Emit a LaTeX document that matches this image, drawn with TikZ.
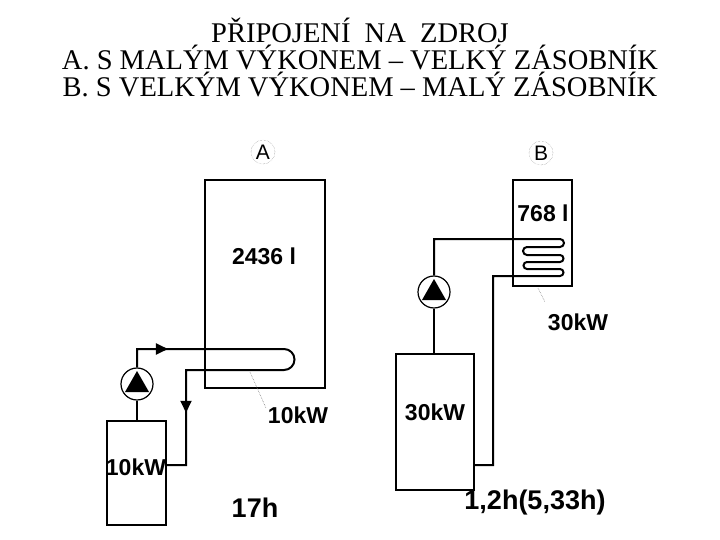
\documentclass[tikz,border=0pt]{standalone}
\usepackage{fontspec}
\setmainfont{Liberation Serif}
\newfontfamily\arial{Liberation Sans}
\usetikzlibrary{arrows.meta,decorations.markings}
\begin{document}
\begin{tikzpicture}[x=1pt,y=-1pt,
  box/.style={draw,line width=1.2pt},
  pipe/.style={line width=2pt},
  lbl/.style={font=\arial\bfseries\fontsize{23}{25}\selectfont,inner sep=0},
  big/.style={font=\arial\bfseries\fontsize{27}{29}\selectfont,inner sep=0},
  ttl/.style={font=\fontsize{28.5}{30}\selectfont,inner sep=0},
  lead/.style={densely dotted,line width=0.6pt,gray},
  midarrow/.style={postaction={decorate},decoration={markings,mark=at position #1 with {\arrow{Triangle[length=12pt,width=11pt]}}}}]
\useasboundingbox (0,0) rectangle (720,540);
% titles
\node[ttl] (t1) at (360,30) {PŘIPOJENÍ \ NA \ ZDROJ};
\node[ttl] (t2) at (360,57) {A. S MALÝM VÝKONEM – VELKÝ ZÁSOBNÍK};
\node[ttl] (t3) at (360,84) {B. S VELKÝM VÝKONEM – MALÝ ZÁSOBNÍK};
% A
\node[inner sep=0,font=\arial\fontsize{21}{23}\selectfont] (la) at (263,152) {A};
\draw[densely dotted,gray] (la) circle (12);
\draw[box] (205,180) rectangle (325,388);
\node[lbl] (vA) at (264,256) {2436 l};
\draw[box] (107,421) rectangle (166,525);
\node[lbl] (kA) at (136,467) {10kW};
\node[draw,circle,line width=1.2pt,minimum size=32pt,inner sep=0] (pA) at (137,384) {};
\fill (137,371) -- (125,392) -- (149,392) -- cycle;
\draw[pipe] (137,421) -- (pA.south);
\draw[pipe,midarrow=0.12] (pA.north) -- (137,349) -- (284,349) arc[start angle=-90,end angle=90,radius=10.5] -- (186,370) -- (186,465) -- (166,465);
\draw[pipe,midarrow=0.45] (186,370) -- (186,465);
\draw[lead] (250,372) -- (266,408);
\node[lbl] (kA2) at (298,415) {10kW};
% B
\node[inner sep=0,font=\arial\fontsize{21}{23}\selectfont] (lb) at (541,153) {B};
\draw[densely dotted,gray] (lb) circle (12);
\draw[box] (513,180) rectangle (572,286);
\node[lbl] (vB) at (543,213) {768 l};
\draw[box] (396,354) rectangle (474,490);
\node[lbl] (kB) at (435,412) {30kW};
\node[draw,circle,line width=1.2pt,minimum size=32pt,inner sep=0] (pB) at (434,292) {};
\fill (434,279) -- (422,300) -- (446,300) -- cycle;
\draw[pipe] (434,354) -- (pB.south);
\draw[pipe] (pB.north) -- (434,239) -- (560,239) arc[start angle=-90,end angle=90,radius=4]
  -- (527,247) arc[start angle=-90,end angle=-270,radius=4]
  -- (560,255) arc[start angle=-90,end angle=90,radius=3.5]
  -- (527,262) arc[start angle=-90,end angle=-270,radius=3.5]
  -- (560,269) arc[start angle=-90,end angle=90,radius=3.5]
  -- (493,276) -- (493,465) -- (474,465);
\draw[lead] (538,288) -- (545,302);
\node[lbl] (kB2) at (578,322) {30kW};
% times
\node[big] (hA) at (255,508) {17h};
\node[big] (hB) at (535,503) {1,2h(5,33h)};
\end{tikzpicture}
\end{document}
